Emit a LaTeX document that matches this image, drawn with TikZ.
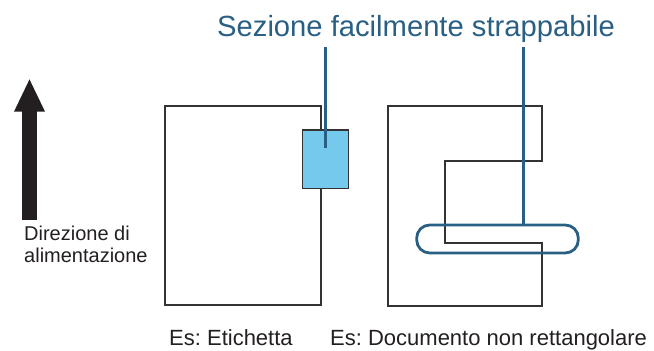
\documentclass[tikz,border=0pt]{standalone}
\usepackage{fontspec}
\setmainfont{Liberation Sans}
\usepackage{tikz}
\usetikzlibrary{positioning, arrows.meta}
\usepackage{xcolor}
\definecolor{pinblue}{HTML}{2A5F84}
\definecolor{tagblue}{HTML}{74C9EC}
\definecolor{edge}{HTML}{333333}
\definecolor{ink}{HTML}{231F20}
\frenchspacing

\begin{document}
\begin{tikzpicture}[x=1pt, y=-1pt,
    sheet/.style={draw=edge, line width=1.8pt, inner sep=0pt, outer sep=0pt},
    pin/.style={draw=pinblue, line width=3.2pt},
    caption/.style={anchor=base west, inner sep=0pt, text=ink}]
    \useasboundingbox (0,0) rectangle (654,351);

    % Feed direction arrow
    \coordinate (feedtail) at (29.5,220);
    \coordinate (feedtip) at (29.5,78.3);
    \draw[ink, line width=15pt, -{Triangle[length=33.4pt, width=28.3pt]}] (feedtail) -- (feedtip);
    \node[caption, align=left, font=\fontsize{20}{22.7}\selectfont] (feedtext) at (24,262.7)
        {Direzione di\\alimentazione};

    % Title
    \node[anchor=base west, inner sep=0pt, text=pinblue, font=\fontsize{29.2}{35}\selectfont]
        (title) at (217,36) {Sezione facilmente strappabile};

    % Example 1: label
    \node[sheet, minimum width=156pt, minimum height=199pt] (labelsheet) at (242.7,205.5) {};
    \node[sheet, fill=tagblue, line width=1.5pt, minimum width=46pt, minimum height=58.3pt]
        (tag) at (325.3,159.2) {};

    % Example 2: non-rectangular document
    \draw[edge, line width=1.8pt] (388,106) -- (542,106) -- (542,161) -- (445,161)
        -- (445,243) -- (542,243) -- (542,306) -- (388,306) -- cycle;
    \node[draw=pinblue, line width=2.8pt, rounded corners=13pt, inner sep=0pt, outer sep=0pt,
        minimum width=161.6pt, minimum height=28pt] (tear) at (497.5,239) {};

    % Pointers from title
    \coordinate (hookA) at (325.5,47);
    \coordinate (tagpin) at (325.5,147.7);
    \coordinate (hookB) at (523.3,47);
    \draw[pin] (hookA) -- (tagpin);
    \draw[pin] (hookB) -- (hookB |- tear.north);

    % Captions
    \node[caption, font=\fontsize{22}{26}\selectfont] (capA) at (169,345.5) {Es: Etichetta};
    \node[caption, font=\fontsize{22}{26}\selectfont] (capB) at (330,345.5) {Es: Documento non rettangolare};
\end{tikzpicture}
\end{document}
